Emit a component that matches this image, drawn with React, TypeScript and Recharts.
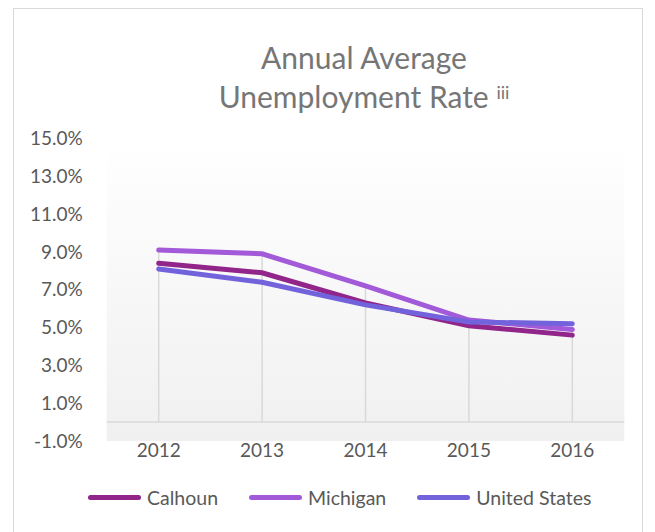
import React from 'react';
import { LineChart, Line, XAxis, YAxis, CartesianGrid, ReferenceLine } from 'recharts';

const years = ['2012', '2013', '2014', '2015', '2016'];
const calhoun = [8.4, 7.9, 6.3, 5.1, 4.6];
const michigan = [9.1, 8.9, 7.2, 5.4, 4.9];
const unitedStates = [8.1, 7.4, 6.2, 5.3, 5.2];
const yTicks = [-1, 1, 3, 5, 7, 9, 11, 13, 15];

const SERIES = [
  { key: 'calhoun', name: 'Calhoun', color: '#912589' },
  { key: 'michigan', name: 'Michigan', color: '#A25AD8' },
  { key: 'unitedStates', name: 'United States', color: '#7262DC' },
];

const FONT = 'Lato, "Open Sans", sans-serif';
const TEXT = '#595959';

const data = years.map((year, i) => ({
  year,
  calhoun: calhoun[i],
  michigan: michigan[i],
  unitedStates: unitedStates[i],
  top: Math.max(calhoun[i], michigan[i], unitedStates[i]),
}));

const App = () => {
  return (
    <div style={{ position: 'absolute', left: 0, top: 0, width: 655, height: 532, overflow: 'hidden', background: '#fff', fontFamily: FONT }}>
      <svg width={0} height={0} style={{ position: 'absolute' }}>
        <defs>
          <linearGradient id="plotBg" x1="0" y1="0" x2="0" y2="1">
            <stop offset="0%" stopColor="#ffffff" />
            <stop offset="100%" stopColor="#f0f0f0" />
          </linearGradient>
        </defs>
      </svg>
      <div style={{ position: 'absolute', left: 13, top: 8, width: 628, height: 600, border: '1.5px solid #d9d9d9' }} />
      <div style={{ position: 'absolute', left: 164, top: 38, width: 400, textAlign: 'center', fontSize: 30, lineHeight: '39px', color: '#767676' }}>
        Annual Average
        <br />
        Unemployment Rate <sup style={{ fontSize: 18, verticalAlign: 'top', position: 'relative', top: -4 }}>iii</sup>
      </div>
      <div style={{ position: 'absolute', left: 0, top: 0 }}>
        <LineChart width={655} height={532} data={data} margin={{ top: 138.5, right: 30.7, bottom: 61, left: 46.7 }}>
          <CartesianGrid horizontal={false} vertical={false} fill="url(#plotBg)" stroke="none" />
          <XAxis
            dataKey="year"
            height={30}
            axisLine={false}
            tickLine={false}
            tickSize={0}
            tickMargin={3}
            padding={{ left: 52, right: 52 }}
            tick={{ fill: TEXT, fontSize: 19, fontFamily: FONT }}
          />
          <YAxis
            width={60}
            domain={[-1, 15]}
            ticks={yTicks}
            interval={0}
            axisLine={false}
            tickLine={false}
            tickMargin={18}
            tickFormatter={(v: number) => `${v.toFixed(1)}%`}
            tick={{ fill: TEXT, fontSize: 19, fontFamily: FONT }}
          />
          <ReferenceLine y={0} stroke="#d9d9d9" strokeWidth={1.5} />
          {data.map((d) => (
            <ReferenceLine
              key={d.year}
              segment={[{ x: d.year, y: 0 }, { x: d.year, y: d.top }]}
              stroke="#d9d9d9"
              strokeWidth={1.5}
            />
          ))}
          {SERIES.map((s) => (
            <Line
              key={s.key}
              type="linear"
              dataKey={s.key}
              name={s.name}
              stroke={s.color}
              strokeWidth={5}
              strokeLinecap="round"
              dot={false}
              activeDot={false}
              isAnimationActive={false}
            />
          ))}
        </LineChart>
      </div>
      <div style={{ position: 'absolute', left: 88, top: 484, height: 26, display: 'flex', alignItems: 'center', gap: 31 }}>
        {SERIES.map((s) => (
          <div key={s.key} style={{ display: 'flex', alignItems: 'center' }}>
            <span style={{ display: 'inline-block', width: 53, height: 5, borderRadius: 3, background: s.color, marginRight: 6 }} />
            <span style={{ fontSize: 19.5, color: TEXT }}>{s.name}</span>
          </div>
        ))}
      </div>
    </div>
  );
};

export default App;
